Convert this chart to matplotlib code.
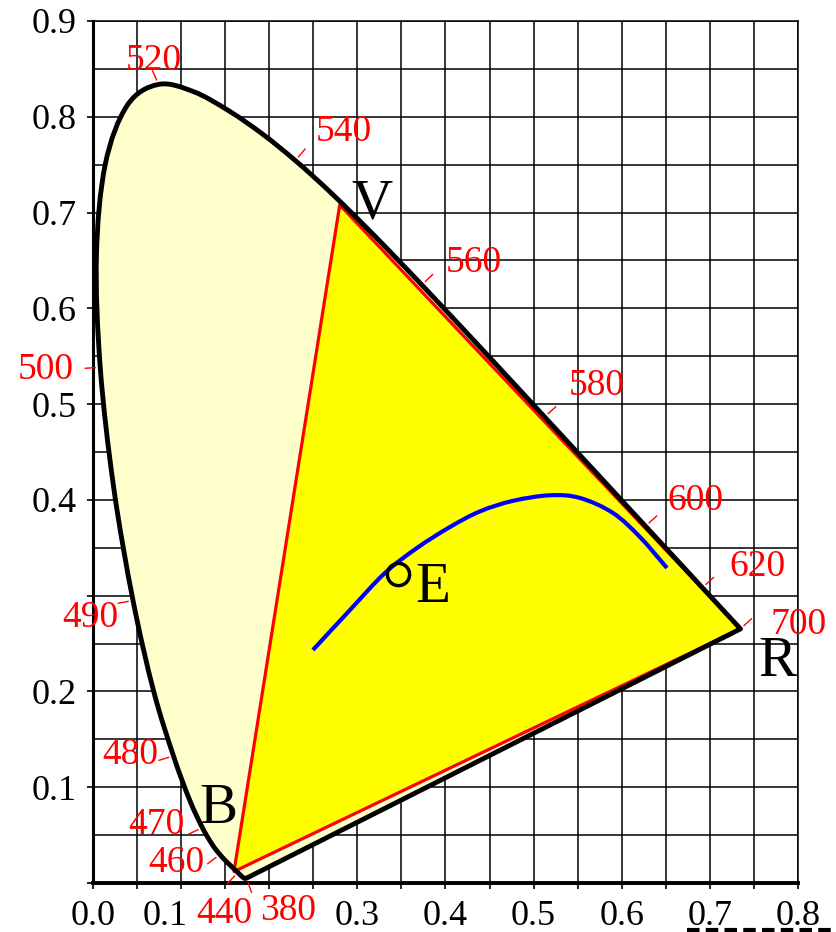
import numpy as np
import matplotlib.pyplot as plt
from matplotlib.lines import Line2D
from matplotlib.path import Path
from matplotlib.patches import PathPatch
import matplotlib.transforms as mtransforms

# CIE 1931 spectral locus (nm -> x, y)
wavelengths = [380, 385, 390, 395, 400, 405, 410, 415, 420, 425, 430, 435, 440, 445,
               450, 455, 460, 465, 470, 475, 480, 485, 490, 495, 500, 505, 510, 515,
               520, 525, 530, 535, 540, 545, 550, 555, 560, 565, 570, 575, 580, 585,
               590, 595, 600, 605, 610, 615, 620, 625, 630, 635, 640, 645, 650, 660,
               670, 680, 690, 700]
locus_x = [0.1741, 0.1740, 0.1738, 0.1736, 0.1733, 0.1730, 0.1726, 0.1721, 0.1714, 0.1703,
           0.1689, 0.1669, 0.1644, 0.1611, 0.1566, 0.1510, 0.1440, 0.1355, 0.1241, 0.1096,
           0.0913, 0.0687, 0.0454, 0.0235, 0.0082, 0.0039, 0.0139, 0.0389, 0.0743, 0.1142,
           0.1547, 0.1929, 0.2296, 0.2658, 0.3016, 0.3373, 0.3731, 0.4087, 0.4441, 0.4788,
           0.5125, 0.5448, 0.5752, 0.6029, 0.6270, 0.6482, 0.6658, 0.6801, 0.6915, 0.7006,
           0.7079, 0.7140, 0.7190, 0.7230, 0.7260, 0.7300, 0.7320, 0.7334, 0.7344, 0.7347]
locus_y = [0.0050, 0.0050, 0.0049, 0.0049, 0.0048, 0.0048, 0.0048, 0.0048, 0.0051, 0.0058,
           0.0069, 0.0086, 0.0109, 0.0138, 0.0177, 0.0227, 0.0297, 0.0399, 0.0578, 0.0868,
           0.1327, 0.2007, 0.2950, 0.4127, 0.5384, 0.6548, 0.7502, 0.8120, 0.8338, 0.8262,
           0.8059, 0.7816, 0.7543, 0.7243, 0.6923, 0.6589, 0.6245, 0.5896, 0.5547, 0.5202,
           0.4866, 0.4544, 0.4242, 0.3965, 0.3725, 0.3514, 0.3340, 0.3197, 0.3083, 0.2993,
           0.2920, 0.2859, 0.2809, 0.2770, 0.2740, 0.2700, 0.2680, 0.2666, 0.2656, 0.2653]

marked_nm = [380, 440, 460, 470, 480, 490, 500, 520, 540, 560, 580, 600, 620, 700]

# primaries R, V, B
prim_names = ['R', 'V', 'B']
prim_x = [0.7347, 0.280, 0.160]
prim_y = [0.2653, 0.708, 0.012]

# blackbody curve
planck_x = [0.2496, 0.2916, 0.3313, 0.3677, 0.4051, 0.4391, 0.4766, 0.5186, 0.5526,
            0.5901, 0.6207, 0.6513]
planck_y = [0.2433, 0.2850, 0.3237, 0.3498, 0.3717, 0.3880, 0.3990, 0.4048, 0.4020,
            0.3863, 0.3612, 0.3289]

e_x, e_y = 0.346, 0.3226

x_ticks = [0.0, 0.1, 0.2, 0.3, 0.4, 0.5, 0.6, 0.7, 0.8]
x_ticklabels = ['0.0', '0.1', '', '0.3', '0.4', '0.5', '0.6', '0.7', '0.8']
y_ticks = [0.0, 0.1, 0.2, 0.3, 0.4, 0.5, 0.6, 0.7, 0.8, 0.9]
y_ticklabels = ['', '0.1', '0.2', '', '0.4', '0.5', '0.6', '0.7', '0.8', '0.9']

# label offsets in pixels (dx right, dy up)
nm_offsets = {380: (42, -33), 440: (-14, -41), 460: (-44, -8), 470: (-46, 3),
              480: (-43, 1), 490: (-43, -17), 500: (-54, -2), 520: (-5, 24),
              540: (48, 29), 560: (52, 22), 580: (52, 31), 600: (50, 25),
              620: (55, 21), 700: (58, 4)}
prim_offsets = {'R': (37, -33), 'V': (32, 0), 'B': (-16, 63)}


def smooth_path(xs, ys, closed_with_line=True):
    # Catmull-Rom through the points, written as cubic Bezier segments
    p = np.column_stack([xs, ys])
    n = len(p)
    verts = [p[0]]
    codes = [Path.MOVETO]
    for i in range(n - 1):
        p0 = p[max(i - 1, 0)]
        p1 = p[i]
        p2 = p[i + 1]
        p3 = p[min(i + 2, n - 1)]
        verts += [p1 + (p2 - p0) / 6, p2 - (p3 - p1) / 6, p2]
        codes += [Path.CURVE4] * 3
    if closed_with_line:
        verts += [p[0], p[0]]
        codes += [Path.LINETO, Path.CLOSEPOLY]
    return Path(verts, codes)


plt.rcParams['font.family'] = 'Liberation Serif'

fig = plt.figure(figsize=(8.37, 9.32), dpi=100)
ax = fig.add_axes([93 / 837, 49 / 932, 705 / 837, 862 / 932])
ax.set_xlim(0, 0.8)
ax.set_ylim(0, 0.9)

# grid every 0.05
for gx in np.arange(0.05, 0.8001, 0.05):
    ax.axvline(gx, color='black', lw=1.1, zorder=0)
for gy in np.arange(0.05, 0.9001, 0.05):
    ax.axhline(gy, color='black', lw=1.1, zorder=0)

lx = np.array(locus_x)
ly = np.array(locus_y)
locus_path = smooth_path(lx, ly)
ax.add_patch(PathPatch(locus_path, facecolor='#FFFFCC', edgecolor='none', zorder=1))

tri_x = prim_x + [prim_x[0]]
tri_y = prim_y + [prim_y[0]]
ax.fill(tri_x, tri_y, color='#FFFF00', zorder=2)
ax.plot(tri_x, tri_y, color='#FF0000', lw=2.3, zorder=3)

ax.add_patch(PathPatch(locus_path, facecolor='none', edgecolor='black', lw=3.5,
                       joinstyle='round', zorder=4))

ax.add_patch(PathPatch(smooth_path(planck_x, planck_y, closed_with_line=False),
                       facecolor='none', edgecolor='#0000FF', lw=3, zorder=5))
ax.plot([e_x], [e_y], 'o', ms=16, mfc='none', mec='black', mew=2.5, zorder=6)
ax.annotate('E', (e_x, e_y), xytext=(35, -14), textcoords='offset pixels',
            fontsize=41, ha='center', va='center', zorder=7)

# wavelength ticks and labels
to_disp = ax.transData
to_data = ax.transData.inverted()
pts_disp = to_disp.transform(np.column_stack([lx, ly]))
centre = to_disp.transform((0.33, 0.33))
for nm in marked_nm:
    i = wavelengths.index(nm)
    a = pts_disp[max(i - 2, 0)]
    b = pts_disp[min(i + 2, len(wavelengths) - 1)]
    t = (b - a) / np.hypot(*(b - a))
    n = np.array([-t[1], t[0]])
    if np.dot(n, pts_disp[i] - centre) < 0:
        n = -n
    seg = to_data.transform([pts_disp[i] + 5 * n, pts_disp[i] + 15 * n])
    ax.plot(seg[:, 0], seg[:, 1], color='#FF0000', lw=1, clip_on=False, zorder=5)
    ax.annotate(str(nm), (lx[i], ly[i]), xytext=nm_offsets[nm],
                textcoords='offset pixels', color='#FF0000', fontsize=27,
                ha='center', va='center', annotation_clip=False, zorder=8)

for name, px, py in zip(prim_names, prim_x, prim_y):
    ax.annotate(name, (px, py), xytext=prim_offsets[name], textcoords='offset pixels',
                fontsize=41, ha='center', va='center', zorder=7)

ax.set_xticks(x_ticks)
ax.set_xticklabels(x_ticklabels)
ax.set_yticks(y_ticks)
ax.set_yticklabels(y_ticklabels)
ax.set_xticks(np.arange(0, 0.8001, 0.05), minor=True)
ax.tick_params(axis='both', which='both', direction='out', length=4, width=1.2,
               labelsize=26, pad=8)
# the 0.1 label sits left of its tick
shift = mtransforms.ScaledTranslation(-16 / 100, 0, fig.dpi_scale_trans)
lbl = ax.get_xticklabels()[1]
lbl.set_transform(lbl.get_transform() + shift)

for side in ['top', 'right']:
    ax.spines[side].set_linewidth(1.1)
ax.spines['left'].set_linewidth(2.2)
ax.spines['bottom'].set_linewidth(2.8)

fig.add_artist(Line2D([687 / 837, 837 / 837], [2 / 932, 2 / 932], color='black',
                      lw=3, ls=(0, (3, 1.5))))

fig.savefig('out.png', dpi=100)
